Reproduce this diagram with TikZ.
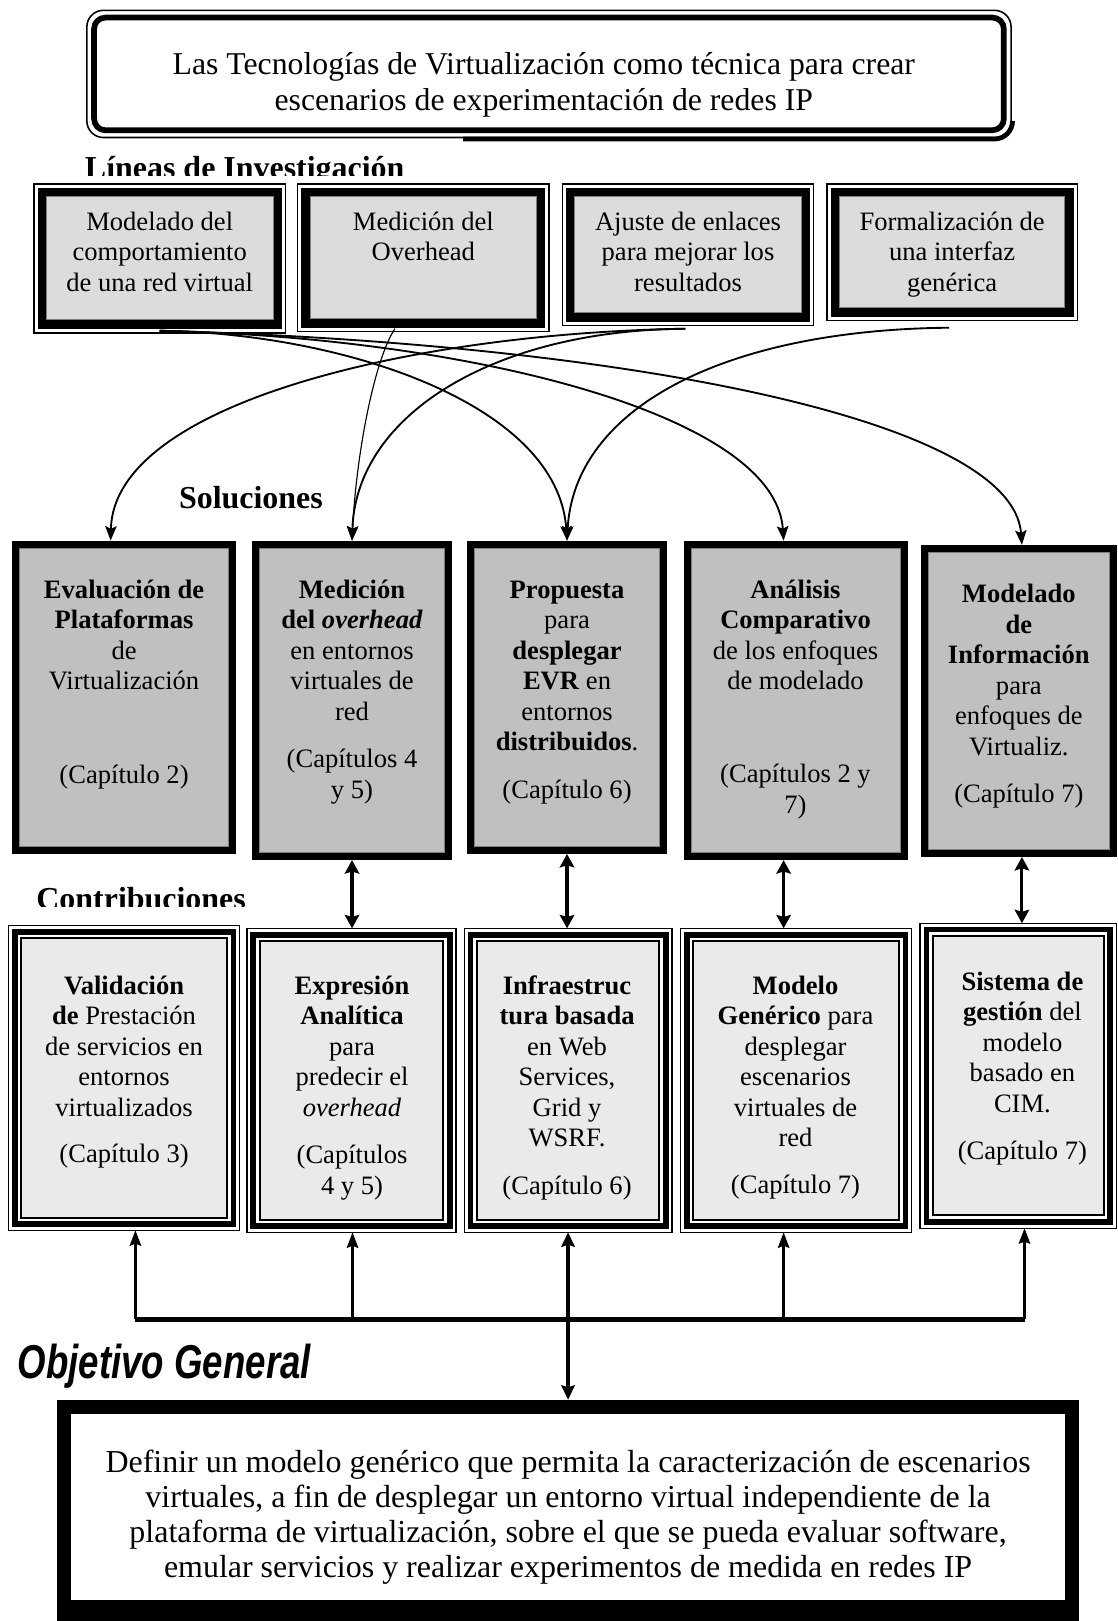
\documentclass[tikz,border=0pt]{standalone}
\usepackage{fontspec}
\usepackage{graphicx}
\setmainfont{Liberation Serif}
\newfontfamily\objsans{Liberation Sans}
\usetikzlibrary{arrows.meta,calc}

\definecolor{lineafill}{HTML}{DCDCDC}
\definecolor{solfill}{HTML}{C0C0C0}
\definecolor{contfill}{HTML}{EAEAEA}
\definecolor{edgegray}{HTML}{7F7F7F}

\newcommand{\boxfont}{\fontsize{25.7}{29.5}\selectfont}
\newcommand{\titlefont}{\fontsize{30.7}{35}\selectfont}
\newcommand{\goalfont}{\fontsize{30.9}{34}\selectfont}
\newcommand{\headfont}{\fontsize{30.9}{35}\selectfont\bfseries}
\newcommand{\objfont}{\objsans\fontsize{46}{50}\selectfont\bfseries\itshape}
% first line of a box text: fixed height given by the strut
\newcommand{\leadline}[1]{\strut\smash{#1}}
% frame node from its corners (x1,y1)-(x2,y2), y counted downwards
\newcommand{\placeframe}[6]{%
  \node[#1, minimum width={#5-#3}, minimum height={#6-#4}] (#2) at ({(#3+#5)/2},{-(#4+#6)/2}) {};}

\begin{document}
\begin{tikzpicture}[x=1pt,y=1pt,
  frame/.style={rectangle, inner sep=0pt, outer sep=0pt},
  lframe/.style={frame, draw=black, line width=1.2pt, fill=white},
  sframe/.style={frame, fill=black},
  cframe/.style={frame, draw=black, line width=1.2pt, fill=white},
  boxtext/.style={anchor=north, align=center, inner sep=0pt, font=\boxfont},
  heading/.style={anchor=base west, inner sep=0pt, font=\headfont},
  link/.style={line width=1.8pt, -{Stealth[length=14pt,width=11pt,inset=2.5pt]}},
  thinlink/.style={link, line width=1.1pt},
  pair/.style={line width=3pt, {Stealth[length=13pt,width=14pt,inset=2pt]}-{Stealth[length=13pt,width=14pt,inset=2pt]}},
  feed/.style={line width=2.6pt, -{Stealth[length=15pt,width=11pt,inset=2pt]}},
  trunk/.style={line width=3.5pt, {Stealth[length=14pt,width=13pt,inset=2pt]}-{Stealth[length=14pt,width=13pt,inset=2pt]}},
]
\useasboundingbox (0,0) rectangle (1081,-1568);

% ---------- title ----------
\node[frame, draw=black, line width=1.5pt, rounded corners=16pt,
      minimum width=894, minimum height=123] (title) at (531,-71.5) {};
\draw[line width=5.5pt, rounded corners=11pt]
  ([shift={(7,-7)}]title.north west) rectangle ([shift={(-7,7)}]title.south east);
\draw[line width=4.5pt]
  ([shift={(-530,-1.5)}]title.south east) -- ([shift={(-16,-1.5)}]title.south east)
  to[out=0,in=-90] ([shift={(1.5,16)}]title.south east);
\node[anchor=north, align=center, inner sep=0pt, font=\titlefont] (titletext) at (526,-47.5)
  {\strut Las Tecnologías de Virtualización como técnica para crear\\
   escenarios de experimentación de redes IP};

% ---------- research lines ----------
\begin{scope}
  \clip (60,-120) rectangle (420,-170);
  \node[heading] (lineas) at (82,-173) {Líneas de Investigación};
\end{scope}

\placeframe{lframe}{l1}{33}{178}{276}{322}
\placeframe{lframe}{l2}{288}{178}{531}{321}
\placeframe{lframe}{l3}{544}{178}{787}{315}
\placeframe{lframe}{l4}{800}{178}{1042}{310}
\foreach \n in {l1,l2,l3,l4}{
  \fill[black] ([shift={(3.5,-3.5)}]\n.north west) rectangle ([shift={(-3.5,3.5)}]\n.south east);
  \filldraw[fill=lineafill, draw=edgegray, line width=0.8pt]
    ([shift={(12,-12)}]\n.north west) rectangle ([shift={(-12,13)}]\n.south east);
}
\node[boxtext] (l1t) at (154.5,-202) {\leadline{Modelado del}\\comportamiento\\de una red virtual};
\node[boxtext] (l2t) at (409.5,-202) {\leadline{Medición del}\\Overhead};
\node[boxtext] (l3t) at (665.5,-202) {\leadline{Ajuste de enlaces}\\para mejorar los\\resultados};
\node[boxtext] (l4t) at (921,-202) {\leadline{Formalización de}\\una interfaz\\genérica};

% ---------- solutions ----------
\node[heading] (soltitle) at (173,-492) {Soluciones};

\placeframe{sframe}{s1}{12}{523}{228}{826}
\placeframe{sframe}{s2}{244}{523}{437}{832}
\placeframe{sframe}{s3}{452}{523}{645}{826}
\placeframe{sframe}{s4}{662}{523}{878}{832}
\placeframe{sframe}{s5}{891}{527}{1080}{829}
\foreach \n in {s1,s2,s3,s4,s5}{
  \filldraw[fill=solfill, draw=edgegray, line width=0.8pt]
    ([shift={(7,-7)}]\n.north west) rectangle ([shift={(-7,7)}]\n.south east);
}

% arrow end points on the solution boxes
\coordinate (t1) at ([xshift=-13pt]s1.north);
\coordinate (t4) at ([xshift=-12pt]s4.north);
\coordinate (t5) at ([xshift=3pt]s5.north);

% curved links from the research lines to the solutions
\draw[link] ([yshift=2pt]l1.south) .. controls +(175.5,-2) and +(-8.5,133) .. (s3.north);
\draw[link] ([yshift=2pt]l1.south) .. controls +(295.5,-6) and +(-8,123) .. (t4);
\draw[link] ([yshift=2pt]l1.south) .. controls +(445.5,-12) and +(-9,122) .. (t5);
\draw[thinlink] ([shift={(-27.5,3)}]l2.south) .. controls +(-20,-30) and +(4,83) .. (s2.north);
\draw[link] ([shift={(-2.5,-3)}]l3.south) .. controls +(-263,-4) and +(3,133) .. (t1);
\draw[link] ([shift={(-2.5,-3)}]l3.south) .. controls +(-183,-1) and +(4,123) .. (s2.north);
\draw[link] ([shift={(-3,-7)}]l4.south) .. controls +(-218,-2) and +(6.5,128) .. (s3.north);

\node[boxtext] (s1t) at (120,-558)
  {\leadline{\textbf{Evaluación de}}\\\textbf{Plataformas}\\de\\Virtualización\\[61.5pt](Capítulo 2)};
\node[boxtext] (s2t) at (340.5,-558)
  {\leadline{\textbf{Medición}}\\\textbf{del \textit{overhead}}\\en entornos\\virtuales de\\red\\[16.5pt](Capítulos 4\\y 5)};
\node[boxtext] (s3t) at (548.5,-558)
  {\leadline{\textbf{Propuesta}}\\para\\\textbf{desplegar}\\\textbf{EVR} en\\entornos\\\textbf{distribuidos}.\\[16.5pt](Capítulo 6)};
\node[boxtext] (s4t) at (769.5,-558)
  {\leadline{\textbf{Análisis}}\\\textbf{Comparativo}\\de los enfoques\\de modelado\\[60.5pt](Capítulos 2 y\\7)};
\node[boxtext] (s5t) at (985.5,-562)
  {\leadline{\textbf{Modelado}}\\\textbf{de}\\\textbf{Información}\\para\\enfoques de\\Virtualiz.\\[16.5pt](Capítulo 7)};

% ---------- contributions ----------
\begin{scope}
  \clip (20,-840) rectangle (260,-877);
  \node[heading] (conttitle) at (35,-880) {Contribuciones};
\end{scope}

\placeframe{cframe}{c1}{8}{895}{232}{1190}
\placeframe{cframe}{c2}{239}{898}{441}{1192}
\placeframe{cframe}{c3}{449}{898}{650}{1192}
\placeframe{cframe}{c4}{658}{898}{882}{1192}
\placeframe{cframe}{c5}{890}{893}{1080}{1188}
\foreach \n in {c1,c2,c3,c4,c5}{
  \fill[black] ([shift={(3.3,-3.3)}]\n.north west) rectangle ([shift={(-3.3,3.3)}]\n.south east);
  \fill[white] ([shift={(9,-9)}]\n.north west) rectangle ([shift={(-9,9)}]\n.south east);
  \filldraw[fill=contfill, draw=black, line width=1.9pt]
    ([shift={(12.3,-12.3)}]\n.north west) rectangle ([shift={(-12.3,12.3)}]\n.south east);
}

\node[boxtext] (c1t) at (120,-941)
  {\leadline{\textbf{Validación}}\\\textbf{de} Prestación\\de servicios en\\entornos\\virtualizados\\[15.5pt](Capítulo 3)};
\node[boxtext] (c2t) at (340.5,-941)
  {\leadline{\textbf{Expresión}}\\\textbf{Analítica}\\para\\predecir el\\\textit{overhead}\\[16.5pt](Capítulos\\4 y 5)};
\node[boxtext] (c3t) at (548.5,-941)
  {\leadline{\textbf{Infraestruc}}\\\textbf{tura basada}\\en Web\\Services,\\Grid y\\WSRF.\\[16.5pt](Capítulo 6)};
\node[boxtext] (c4t) at (769.5,-941)
  {\leadline{\textbf{Modelo}}\\\textbf{Genérico} para\\desplegar\\escenarios\\virtuales de\\red\\[15.5pt](Capítulo 7)};
\node[boxtext] (c5t) at (989,-937)
  {\leadline{\textbf{Sistema de}}\\\textbf{gestión} del\\modelo\\basado en\\CIM.\\[16.5pt](Capítulo 7)};

% solution <-> contribution links
\coordinate (p2) at (s2.south);
\coordinate (p3) at (s3.south);
\coordinate (p4) at ([xshift=-12pt]s4.south);
\coordinate (p5) at ([xshift=3pt]s5.south);
\draw[pair] (p2) -- (p2 |- c2.north);
\draw[pair] (p3) -- (p3 |- c3.north);
\draw[pair] (p4) -- (p4 |- c4.north);
\draw[pair] (p5) -- (p5 |- c5.north);

% ---------- general objective ----------
\node[anchor=base west, inner sep=0pt, font=\objfont] (goaltitle) at (17,-1333)
  {\scalebox{0.77}[1]{Objetivo General}};

\node[frame, draw=black, line width=14pt, fill=white,
      minimum width=975, minimum height=200] (obj) at (549.5,-1461) {};
\fill[black] ([shift={(0,7)}]obj.south west) rectangle ([shift={(0,13)}]obj.south east);
\node[anchor=north, align=center, inner sep=0pt, font=\goalfont] (goaltext) at (549.5,-1400)
  {\strut Definir un modelo genérico que permita la caracterización de escenarios\\
   virtuales, a fin de desplegar un entorno virtual independiente de la\\
   plataforma de virtualización, sobre el que se pueda evaluar software,\\
   emular servicios y realizar experimentos de medida en redes IP};

% bus feeding the contributions
\coordinate (b1) at (131,-1276);
\coordinate (b2) at (341,-1276);
\coordinate (b4) at (758,-1276);
\coordinate (b5) at (991,-1276);
\draw[line width=5pt] (b1) -- (b5);
\draw[feed] (b1) -- (b1 |- c1.south);
\draw[feed] (b2) -- (b2 |- c2.south);
\draw[feed] (b4) -- (b4 |- c4.south);
\draw[feed] (b5) -- (b5 |- c5.south);
\coordinate (gtop) at ([yshift=7pt]obj.north);
\draw[trunk] (c3.south) -- (c3.south |- gtop);
\end{tikzpicture}
\end{document}
